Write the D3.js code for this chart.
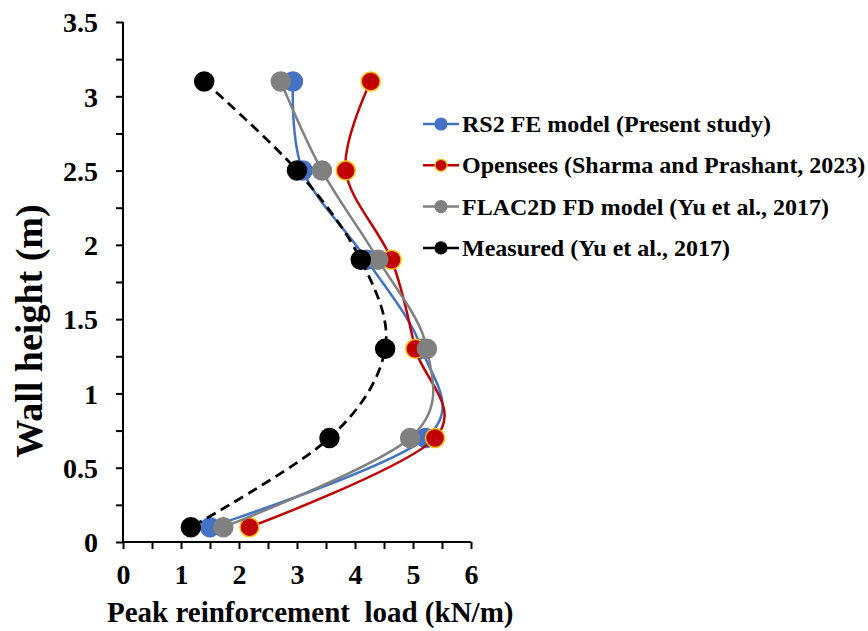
<!DOCTYPE html>
<html>
<head>
<meta charset="utf-8">
<script src="https://cdn.jsdelivr.net/npm/d3@7"></script>
<style>
  body { margin: 0; background: #fff; }
  text { font-family: "Liberation Serif", "Times New Roman", serif; font-weight: bold; }
</style>
</head>
<body>
<svg id="chart" width="868" height="631"></svg>
<script>
// wall heights of the reinforcement layers (m)
const heights = [3.1, 2.5, 1.9, 1.3, 0.7, 0.1];

// peak reinforcement load (kN/m) per layer
const rs2 = [2.93, 3.1, 4.2, 5.15, 5.22, 1.5];
const opensees = [4.27, 3.84, 4.63, 5.04, 5.38, 2.18];
const flac = [2.72, 3.43, 4.4, 5.24, 4.95, 1.73];
const measured = [1.4, 3.0, 4.1, 4.52, 3.56, 1.17];

const seriesNames = [
    "RS2 FE model (Present study)",
    "Opensees (Sharma and Prashant, 2023)",
    "FLAC2D FD model (Yu et al., 2017)",
    "Measured (Yu et al., 2017)"
];

const series = [
    { name: seriesNames[0], values: rs2, color: "#4472C4", stroke: "#4472C4", dash: null, width: 2.5 },
    { name: seriesNames[1], values: opensees, color: "#C00000", stroke: "#FFC000", dash: null, width: 2.5 },
    { name: seriesNames[2], values: flac, color: "#808080", stroke: "#808080", dash: null, width: 2.5 },
    { name: seriesNames[3], values: measured, color: "#000000", stroke: "#000000", dash: "10,6", width: 2.75 }
];

const svg = d3.select("#chart");

const x = d3.scaleLinear().domain([0, 6]).range([123, 471]);
const y = d3.scaleLinear().domain([0, 3.5]).range([542, 22]);

// axes: major ticks get labels, minor ticks are blank
const xAxis = d3.axisBottom(x)
    .tickValues(d3.range(0, 6.01, 0.5))
    .tickSize(7)
    .tickFormat(d => Number.isInteger(d) ? d : "");

const yAxis = d3.axisLeft(y)
    .tickValues(d3.range(0, 3.51, 0.25))
    .tickSize(7)
    .tickFormat(d => (d * 2) % 1 === 0 ? d : "");

const gx = svg.append("g")
    .attr("transform", `translate(0,${y(0)})`)
    .call(xAxis);

const gy = svg.append("g")
    .attr("transform", `translate(${x(0)},0)`)
    .call(yAxis);

[gx, gy].forEach(g => {
    g.select(".domain").attr("stroke", "#000").attr("stroke-width", 2);
    g.selectAll(".tick line").attr("stroke", "#000").attr("stroke-width", 2);
    g.selectAll(".tick text")
        .attr("fill", "#000")
        .style("font-size", "28px")
        .style("font-family", "Liberation Serif, serif")
        .style("font-weight", "bold");
});
gx.select(".domain").attr("d", `M${x(0)},0H${x(6)}`);
gy.select(".domain").attr("d", `M0,${y(0)}V${y(3.5)}`);
gx.selectAll(".tick text").attr("dy", "1.15em").attr("y", 10);
gy.selectAll(".tick text").attr("x", -25).attr("dy", "0.35em");

// axis titles
svg.append("text")
    .attr("x", 107)
    .attr("y", 622)
    .style("font-size", "29px")
    .attr("xml:space", "preserve")
    .text("Peak reinforcement  load (kN/m)");

svg.append("text")
    .attr("transform", "translate(42,331) rotate(-90)")
    .attr("text-anchor", "middle")
    .style("font-size", "38px")
    .text("Wall height (m)");

// series lines and markers
const line = d3.line()
    .x(d => x(d[0]))
    .y(d => y(d[1]))
    .curve(d3.curveCardinal.tension(0));

series.forEach(s => {
    const pts = s.values.map((v, i) => [v, heights[i]]);
    const g = svg.append("g").attr("class", "series");
    g.append("path")
        .attr("d", line(pts))
        .attr("fill", "none")
        .attr("stroke", s.color)
        .attr("stroke-width", s.width)
        .attr("stroke-dasharray", s.dash);
    g.selectAll("circle")
        .data(pts)
        .enter()
        .append("circle")
        .attr("cx", d => x(d[0]))
        .attr("cy", d => y(d[1]))
        .attr("r", 9.5)
        .attr("fill", s.color)
        .attr("stroke", s.stroke)
        .attr("stroke-width", 1.5);
});

// legend
const legend = svg.append("g")
    .selectAll("g")
    .data(series)
    .enter()
    .append("g")
    .attr("transform", (d, i) => `translate(423,${124 + i * 41.3})`);

legend.append("line")
    .attr("x1", 0).attr("x2", 36)
    .attr("stroke", d => d.color)
    .attr("stroke-width", 2.5);

legend.append("circle")
    .attr("cx", 18)
    .attr("r", 6)
    .attr("fill", d => d.color)
    .attr("stroke", d => d.stroke)
    .attr("stroke-width", 1.2);

legend.append("text")
    .attr("x", 39)
    .attr("dy", "0.33em")
    .style("font-size", "24px")
    .text(d => d.name);
</script>
</body>
</html>
